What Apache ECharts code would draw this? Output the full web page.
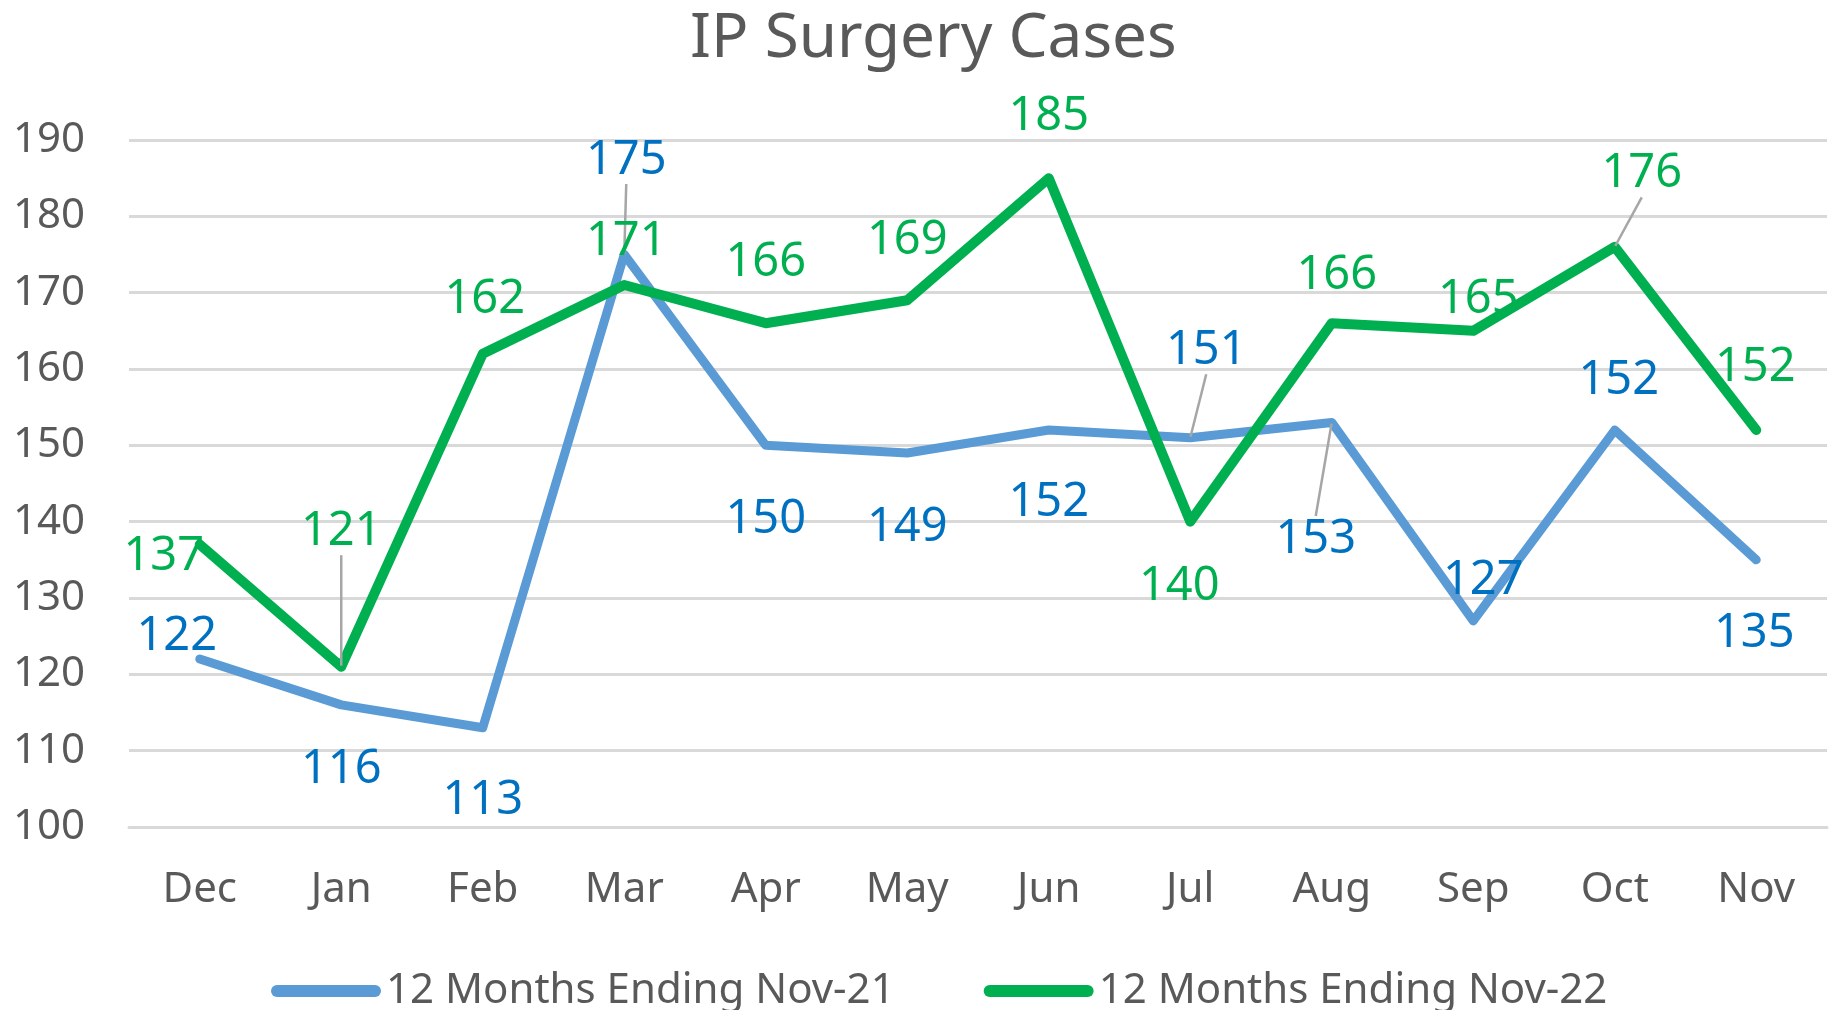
<!DOCTYPE html>
<html>
<head>
<meta charset="utf-8">
<title>IP Surgery Cases</title>
<script src="https://cdn.jsdelivr.net/npm/echarts@6/dist/echarts.min.js"></script>
<style>
  html, body { margin: 0; padding: 0; background: #fff; }
  #chart { width: 1834px; height: 1010px; }
</style>
</head>
<body>
<div id="chart"></div>
<script>
// data
const months = ["Dec", "Jan", "Feb", "Mar", "Apr", "May", "Jun", "Jul", "Aug", "Sep", "Oct", "Nov"];
const seriesNames = ["12 Months Ending Nov-21", "12 Months Ending Nov-22"];
const cases2021 = [122, 116, 113, 175, 150, 149, 152, 151, 153, 127, 152, 135];
const cases2022 = [137, 121, 162, 171, 166, 169, 185, 140, 166, 165, 176, 152];

// where each data label sits, relative to its point (px)
const dx2021 = [-23, 0, 0, 2, 0, 0, 0, 16, -16, 10, 4, -2];
const dy2021 = [-22, 65, 73, -94, 74, 75, 73, -87, 117, -40, -49, 74];
const dx2022 = [-36, 0, 2, 2, 0, 0, 0, -11, 5, 5, 27, -1];
const dy2022 = [12, -135, -54, -43, -61, -60, -62, 65, -48, -31, -73, -62];
// labels that Excel drew with a leader line
const leader2021 = [3, 7, 8];
const leader2022 = [1, 10];

const FONT = "'Noto Sans', 'Open Sans', sans-serif";
const legendIcon = "path://M6,0 L104,0 A6,6 0 0 1 104,12 L6,12 A6,6 0 0 1 6,0 Z";

const toItems = (values, leaders) =>
  values.map((v, i) => ({ value: v, labelLine: { show: leaders.indexOf(i) >= 0 } }));

const makeSeries = (name, values, leaders, lineColor, textColor, width, dx, dy) => ({
  name: name,
  type: "line",
  data: toItems(values, leaders),
  symbol: "circle",
  symbolSize: 2,
  showSymbol: true,
  itemStyle: { color: lineColor },
  lineStyle: { color: lineColor, width: width, cap: "round", join: "round" },
  label: {
    show: true,
    position: "inside",
    color: textColor,
    fontFamily: FONT,
    fontSize: 47,
  },
  labelLine: {
    show: false,
    lineStyle: { color: "#a6a6a6", width: 2.5 },
  },
  labelLayout: (p) => ({ dx: dx[p.dataIndex], dy: dy[p.dataIndex] }),
  emphasis: { disabled: true },
});

const chart = echarts.init(document.getElementById("chart"));
chart.setOption({
  animation: false,
  backgroundColor: "#ffffff",
  title: {
    text: "IP Surgery Cases",
    left: 690,
    top: 8,
    padding: 0,
    textStyle: { color: "#595959", fontFamily: FONT, fontSize: 62, fontWeight: "normal" },
  },
  legend: {
    left: 271,
    top: 970,
    padding: 0,
    itemWidth: 110,
    itemHeight: 12,
    itemGap: 89,
    icon: legendIcon,
    textStyle: { color: "#595959", fontFamily: FONT, fontSize: 42, padding: [0, 0, 0, 0] },
    data: seriesNames,
  },
  grid: { left: 129, right: 7, top: 140, bottom: 183 },
  xAxis: {
    type: "category",
    data: months,
    boundaryGap: true,
    axisLine: { show: true, lineStyle: { color: "#d9d9d9", width: 3 } },
    axisTick: { show: false },
    axisLabel: { color: "#595959", fontFamily: FONT, fontSize: 42, margin: 42 },
  },
  yAxis: {
    type: "value",
    min: 100,
    max: 190,
    interval: 10,
    axisLine: { show: false },
    axisTick: { show: false },
    splitLine: { lineStyle: { color: "#d9d9d9", width: 3 } },
    axisLabel: { color: "#595959", fontFamily: FONT, fontSize: 42, margin: 44 },
  },
  series: [
    makeSeries(seriesNames[0], cases2021, leader2021, "#5b9bd5", "#0070c0", 9, dx2021, dy2021),
    makeSeries(seriesNames[1], cases2022, leader2022, "#00b050", "#00b050", 10, dx2022, dy2022),
  ],
});
</script>
</body>
</html>
